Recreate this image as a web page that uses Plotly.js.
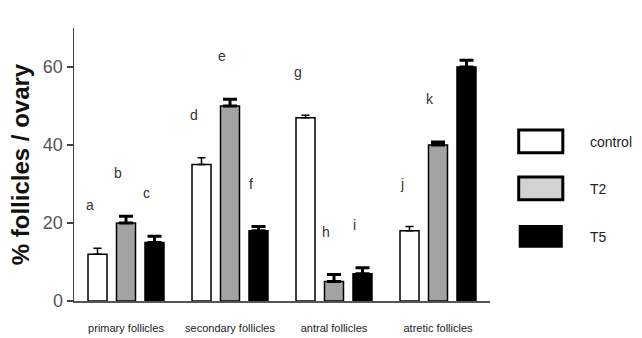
<!DOCTYPE html>
<html>
<head>
<meta charset="utf-8">
<script src="https://cdn.plot.ly/plotly-3.0.1.min.js"></script>
<style>html,body{margin:0;padding:0;background:#fff;}#chart{width:642px;height:338px;}</style>
</head>
<body>
<div id="chart"></div>
<script>
const categories = ["primary follicles", "secondary follicles", "antral follicles", "atretic follicles"];
const seriesNames = ["control", "T2", "T5"];
const controlValues = [12, 35, 47, 18];
const controlErrors = [1.5, 1.7, 0.6, 1.1];
const t2Values = [20, 50, 5, 40];
const t2Errors = [1.7, 1.7, 1.8, 0.8];
const t5Values = [15, 18, 7, 60];
const t5Errors = [1.6, 1.1, 1.5, 1.7];
const letters = [["a", "d", "g", "j"], ["b", "e", "h", "k"], ["c", "f", "i", "l"]];
const yTicks = [0, 20, 40, 60];

const values = [controlValues, t2Values, t5Values];
const errors = [controlErrors, t2Errors, t5Errors];
const fills = ["#ffffff", "#a3a3a3", "#000000"];
const legendFills = ["#ffffff", "#d2d2d2", "#000000"];
const legendLine = [3, 3, 0];
const errStyle = [{thickness: 1.5, width: 4}, {thickness: 3, width: 7}, {thickness: 3, width: 7}];

const xIdx = categories.map((c, i) => i);
const traces = values.map((v, s) => ({
  type: "bar",
  x: xIdx,
  y: v,
  name: seriesNames[s],
  marker: {color: fills[s], line: {color: "#000", width: 1.5}},
  error_y: {type: "data", symmetric: false, array: errors[s], arrayminus: v.map(() => 0),
            color: "#000", thickness: errStyle[s].thickness, width: errStyle[s].width},
  showlegend: false,
  hoverinfo: "none"
}));

const slot = 0.274; // bar slot in category units
const annotations = [];
values.forEach((v, s) => {
  v.forEach((val, i) => {
    annotations.push({
      x: i + (s - 1) * slot, y: val + errors[s][i] + 11, xref: "x", yref: "y",
      text: letters[s][i], showarrow: false, xshift: -8,
      font: {family: "Liberation Sans, Arial, sans-serif", size: 14, color: "#333"}
    });
  });
});

const shapes = [];
const legendTop = [0.626, 0.454, 0.278];
seriesNames.forEach((n, s) => {
  shapes.push({
    type: "rect", xref: "paper", yref: "paper",
    x0: 1.069, x1: 1.175, y0: legendTop[s] - 0.083, y1: legendTop[s],
    fillcolor: legendFills[s], line: {color: "#000", width: legendLine[s]}
  });
  annotations.push({
    xref: "paper", yref: "paper", x: 1.236, y: legendTop[s] - 0.042,
    xanchor: "left", yanchor: "middle", showarrow: false, text: n,
    font: {family: "Liberation Sans, Arial, sans-serif", size: 14, color: "#222"}
  });
});

const layout = {
  width: 642, height: 338,
  margin: {l: 74, r: 152, t: 28, b: 37},
  paper_bgcolor: "#fff", plot_bgcolor: "#fff",
  barmode: "group", bargap: 0.178, bargroupgap: 0.333,
  xaxis: {
    range: [-0.5, 3.5], tickvals: xIdx, ticktext: categories,
    showline: true, linecolor: "#555", linewidth: 1.5, ticks: "", showgrid: false, zeroline: false,
    tickfont: {family: "Liberation Sans Narrow, Liberation Sans, Arial, sans-serif", size: 11, color: "#222"},
    ticklabelstandoff: 16, fixedrange: true
  },
  yaxis: {
    range: [0, 70], tickvals: yTicks, ticks: "outside", ticklen: 6, tickwidth: 1.5, tickcolor: "#444",
    showline: true, linecolor: "#444", linewidth: 1.5, showgrid: false, zeroline: false,
    tickfont: {family: "Liberation Sans, Arial, sans-serif", size: 18, color: "#555"},
    title: {text: "% follicles / ovary", font: {family: "Liberation Sans, Arial, sans-serif", size: 24, color: "#111", weight: "bold"}, standoff: 6},
    fixedrange: true
  },
  annotations: annotations,
  shapes: shapes,
  showlegend: false
};

Plotly.newPlot("chart", traces, layout, {staticPlot: true, displayModeBar: false});
</script>
</body>
</html>
